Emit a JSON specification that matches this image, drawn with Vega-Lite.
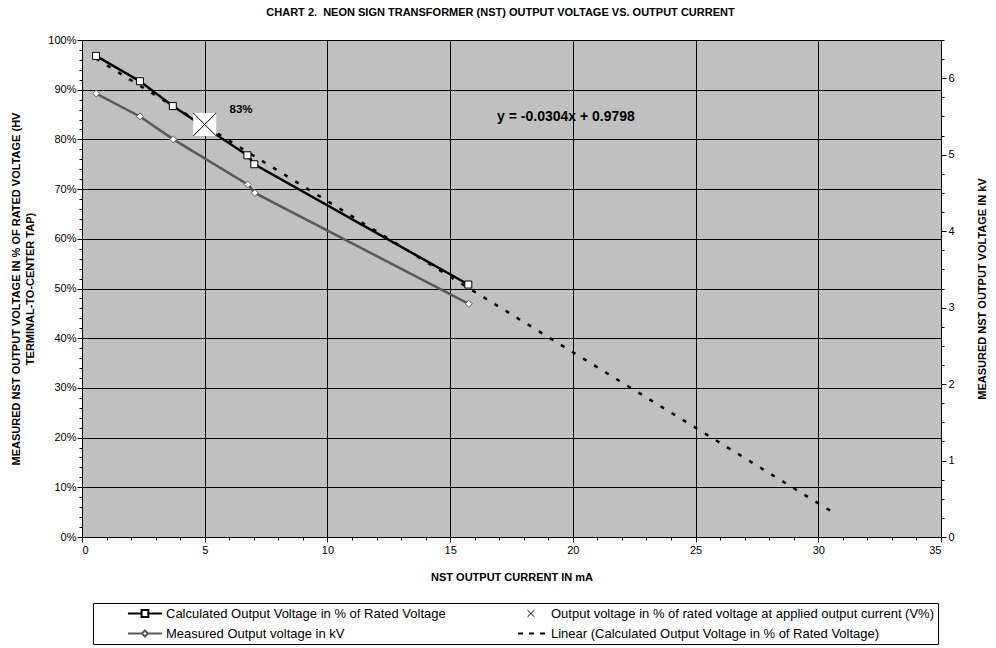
{
  "$schema": "https://vega.github.io/schema/vega-lite/v6.json",
  "width": 859,
  "height": 497,
  "autosize": "none",
  "padding": {"left": 82, "top": 40, "right": 55, "bottom": 111},
  "background": "white",
  "title": {
    "text": "CHART 2.\u00a0 NEON SIGN TRANSFORMER (NST) OUTPUT VOLTAGE VS. OUTPUT CURRENT",
    "font": "Liberation Sans",
    "fontSize": 11,
    "fontWeight": "bold",
    "color": "black",
    "anchor": "middle",
    "offset": 16,
    "dx": -11
  },
  "config": {
    "view": {"fill": "#c0c0c0", "stroke": null},
    "font": "Liberation Sans",
    "axis": {
      "labelFont": "Liberation Sans",
      "labelFontSize": 11,
      "labelColor": "black",
      "titleFont": "Liberation Sans",
      "titleFontSize": 11,
      "titleFontWeight": "bold",
      "titleColor": "black",
      "domainColor": "black",
      "tickColor": "black",
      "gridColor": "black",
      "gridWidth": 1
    }
  },
  "datasets": {
    "calc": [
      {"mA": 0.57, "pct": 96.8},
      {"mA": 2.36, "pct": 91.7},
      {"mA": 3.70, "pct": 86.7},
      {"mA": 6.74, "pct": 76.8},
      {"mA": 7.02, "pct": 75.0},
      {"mA": 15.74, "pct": 50.8}
    ],
    "measured": [
      {"mA": 0.58, "kV": 5.80},
      {"mA": 2.36, "kV": 5.50},
      {"mA": 3.72, "kV": 5.20},
      {"mA": 6.75, "kV": 4.61},
      {"mA": 7.04, "kV": 4.50},
      {"mA": 15.76, "kV": 3.05}
    ],
    "trend": [
      {"mA": 0.57, "pct": 96.25},
      {"mA": 30.74, "pct": 4.53}
    ],
    "marker": [
      {"mA": 5, "pct": 83}
    ],
    "note": [
      {"mA": 6.48, "pct": 85.9, "label": "83%"}
    ],
    "eq": [
      {"mA": 19.72, "pct": 84.5, "label": "y = -0.0304x + 0.9798"}
    ]
  },
  "encoding": {
    "x": {
      "field": "mA",
      "type": "quantitative",
      "scale": {"domain": [0, 35], "nice": false},
      "axis": {
        "title": "NST OUTPUT CURRENT IN mA",
        "values": [0,1,2,3,4,5,6,7,8,9,10,11,12,13,14,15,16,17,18,19,20,21,22,23,24,25,26,27,28,29,30,31,32,33,34,35],
        "labelExpr": "datum.value % 5 === 0 ? datum.value : ''",
        "tickSize": {"condition": {"test": "datum.value % 5 === 0", "value": 5}, "value": 3},
        "grid": true,
        "gridOpacity": {"condition": {"test": "datum.value % 5 === 0", "value": 1}, "value": 0},
        "labelPadding": 2,
        "titlePadding": 16
      }
    }
  },
  "layer": [
    {
      "encoding": {
        "y": {
          "field": "pct",
          "type": "quantitative",
          "scale": {"domain": [0, 100], "nice": false},
          "axis": {
            "title": ["MEASURED NST OUTPUT VOLTAGE IN % OF RATED VOLTAGE (HV", "TERMINAL-TO-CENTER TAP)"],
            "titleLineHeight": 14,
            "values": [0,2,4,6,8,10,12,14,16,18,20,22,24,26,28,30,32,34,36,38,40,42,44,46,48,50,52,54,56,58,60,62,64,66,68,70,72,74,76,78,80,82,84,86,88,90,92,94,96,98,100],
            "labelExpr": "datum.value % 10 === 0 ? datum.value + '%' : ''",
            "tickSize": {"condition": {"test": "datum.value % 10 === 0", "value": 5}, "value": 3},
            "grid": true,
            "gridOpacity": {"condition": {"test": "datum.value % 10 === 0", "value": 1}, "value": 0},
            "labelPadding": 1,
            "titlePadding": 12
          }
        }
      },
      "layer": [
        {
          "data": {"name": "trend"},
          "mark": {"type": "line", "strokeWidth": 2.5, "strokeDash": [4, 9], "strokeCap": "butt"},
          "encoding": {
            "color": {
              "datum": "Linear (Calculated Output Voltage in % of Rated Voltage)",
              "type": "nominal",
              "scale": {
                "domain": ["Calculated Output Voltage in % of Rated Voltage", "Measured Output voltage in kV", "Output voltage in % of rated voltage at applied output current (V%)", "Linear (Calculated Output Voltage in % of Rated Voltage)"],
                "range": ["black", "#5a5a5a", "black", "black"]
              },
              "legend": {
                "orient": "none",
                "legendX": 11,
                "legendY": 563,
                "columns": 2,
                "title": null,
                "symbolSize": 4624,
                "clipHeight": 15,
                "labelFont": "Liberation Sans",
                "labelFontSize": 13,
                "labelColor": "black",
                "labelLimit": 600,
                "labelOffset": 0,
                "columnPadding": 35,
                "rowPadding": 5,
                "padding": 3,
                "strokeColor": "black",
                "fillColor": "white",
                "encode": {
                  "symbols": {
                    "update": {
                      "shape": {"signal": "['M-0.09,0H0.31M0.51,0H0.91M0.31,-0.1H0.51V0.1H0.31Z', 'M-0.09,0H0.33M0.49,0H0.91M0.41,-0.09L0.5,0L0.41,0.09L0.32,0Z', 'M0.34,-0.1L0.54,0.1M0.34,0.1L0.54,-0.1', 'M0.06,0H0.88'][datum.index]"},
                      "fill": {"signal": "datum.index <= 1 ? 'white' : 'transparent'"},
                      "stroke": {"signal": "datum.index === 1 ? '#5a5a5a' : 'black'"},
                      "strokeWidth": {"signal": "(datum.index === 2 ? 1 : 2)"},
                      "strokeDash": {"signal": "datum.index === 3 ? [5, 6] : []"},
                      "opacity": {"value": 1},
                      "fillOpacity": {"value": 1},
                      "strokeOpacity": {"value": 1}
                    }
                  }
                }
              }
            }
          }
        },
        {
          "data": {"name": "calc"},
          "mark": {"type": "line", "strokeWidth": 2.5},
          "encoding": {
            "color": {"datum": "Calculated Output Voltage in % of Rated Voltage", "type": "nominal"}
          }
        },
        {
          "data": {"name": "calc"},
          "mark": {"type": "point", "shape": "square", "size": 49, "filled": true, "fill": "white", "stroke": "black", "strokeWidth": 1, "opacity": 1}
        },
        {
          "data": {"name": "marker"},
          "mark": {"type": "point", "shape": "square", "size": 529, "filled": true, "fill": "white", "strokeWidth": 0, "opacity": 1}
        },
        {
          "data": {"name": "marker"},
          "mark": {"type": "point", "shape": "M-1,-1L1,1M-1,1L1,-1", "size": 529, "filled": false, "strokeWidth": 1, "opacity": 1},
          "encoding": {
            "color": {"datum": "Output voltage in % of rated voltage at applied output current (V%)", "type": "nominal"}
          }
        },
        {
          "data": {"name": "note"},
          "mark": {"type": "text", "font": "Liberation Sans", "fontSize": 11.5, "fontWeight": "bold", "color": "black"},
          "encoding": {"text": {"field": "label"}}
        },
        {
          "data": {"name": "eq"},
          "mark": {"type": "text", "font": "Liberation Sans", "fontSize": 14, "fontWeight": "bold", "color": "black"},
          "encoding": {"text": {"field": "label"}}
        }
      ]
    },
    {
      "data": {"name": "measured"},
      "encoding": {
        "y": {
          "field": "kV",
          "type": "quantitative",
          "scale": {"domain": [0, 6.5], "nice": false},
          "axis": {
            "orient": "right",
            "title": "MEASURED NST OUTPUT VOLTAGE IN kV",
            "titleAngle": 270,
            "values": [0,0.25,0.5,0.75,1,1.25,1.5,1.75,2,2.25,2.5,2.75,3,3.25,3.5,3.75,4,4.25,4.5,4.75,5,5.25,5.5,5.75,6,6.25,6.5],
            "labelExpr": "datum.value % 1 === 0 ? datum.value : ''",
            "tickSize": {"condition": {"test": "datum.value % 1 === 0", "value": 5}, "value": 3},
            "grid": false,
            "labelPadding": 2,
            "titlePadding": 33
          }
        }
      },
      "layer": [
        {
          "mark": {"type": "line", "strokeWidth": 2.5},
          "encoding": {
            "color": {"datum": "Measured Output voltage in kV", "type": "nominal"}
          }
        },
        {
          "mark": {"type": "point", "shape": "diamond", "size": 49, "filled": true, "fill": "white", "stroke": "#5a5a5a", "strokeWidth": 1, "opacity": 1}
        }
      ]
    }
  ],
  "resolve": {"scale": {"y": "independent"}}
}
